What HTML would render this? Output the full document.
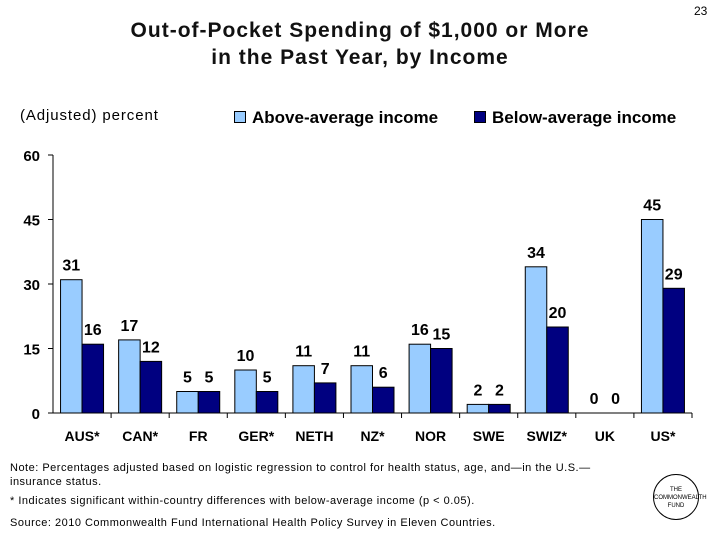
<!DOCTYPE html>
<html><head><meta charset="utf-8"><style>
body{margin:0;background:#fff;font-family:"Liberation Sans",Arial,sans-serif}
#wrap{position:relative;width:720px;height:540px;overflow:hidden}
.t{position:absolute;white-space:nowrap}
.fn{font-size:11px;letter-spacing:0.5px}
</style></head><body>
<div id="wrap">
<div class="t" style="left:60px;width:600px;top:17px;text-align:center;font-size:21px;font-weight:bold;line-height:27px;color:#111;letter-spacing:1px">Out-of-Pocket Spending of $1,000 or More<br>in the Past Year, by Income</div>
<div class="t" style="left:694px;top:4px;font-size:12px">23</div>
<div class="t" style="left:20px;top:107px;font-size:15px;letter-spacing:0.9px">(Adjusted) percent</div>
<div class="t" style="left:234px;top:108px;font-size:17px;font-weight:bold"><span style="display:inline-block;width:10px;height:10px;background:#99ccff;border:1px solid #000;margin-right:6px"></span>Above-average income</div>
<div class="t" style="left:474px;top:108px;font-size:17px;font-weight:bold"><span style="display:inline-block;width:10px;height:10px;background:#000080;border:1px solid #000;margin-right:6px"></span>Below-average income</div>
<svg id="chart" width="720" height="540" style="position:absolute;left:0;top:0"></svg>
<div class="t fn" style="left:10px;top:461px;line-height:14px">Note: Percentages adjusted based on logistic regression to control for health status, age, and—in the U.S.—<br>insurance status.</div>
<div class="t fn" style="left:10px;top:495px">* Indicates significant within-country differences with below-average income (p &lt; 0.05).</div>
<div class="t fn" style="left:10px;top:517px">Source: 2010 Commonwealth Fund International Health Policy Survey in Eleven Countries.</div>
<div style="position:absolute;left:653px;top:474px;width:46px;height:46px;border:1px solid #000;border-radius:50%;font-size:6px;text-align:center;line-height:8px;box-sizing:border-box;padding-top:11px">THE<br>COMMONWEALTH<br>FUND</div>
</div>
<script>
const categories=["AUS*","CAN*","FR","GER*","NETH","NZ*","NOR","SWE","SWIZ*","UK","US*"];
const aboveValues=[31,17,5,10,11,11,16,2,34,0,45];
const belowValues=[16,12,5,5,7,6,15,2,20,0,29];
const yTicks=[0,15,30,45,60];
const svg=document.getElementById('chart');
const NS='http://www.w3.org/2000/svg';
const x0=53,x1=692,yb=413,yt=155,yMax=60;
const gw=(x1-x0)/categories.length,bw=21.5;
const y=v=>yb-(v/yMax)*(yb-yt);
function mk(tag,attrs,txt){const e=document.createElementNS(NS,tag);for(const k in attrs)e.setAttribute(k,attrs[k]);if(txt!==undefined)e.textContent=txt;svg.appendChild(e);return e;}
let e=mk('line',{x1:x0,y1:yt,x2:x0,y2:yb,stroke:'#000'});

e=mk('line',{x1:x0,y1:yb,x2:x1,y2:yb,stroke:'#000'});

yTicks.forEach(t=>{
 let l=mk('line',{x1:x0-5,y1:y(t),x2:x0,y2:y(t),stroke:'#000'});
 
 let tx=mk('text',{x:40,y:y(t)+6,'text-anchor':'end','font-size':15,'font-weight':'bold','font-family':'Liberation Sans'},t);
 
});
categories.forEach((c,i)=>{
 const gx=x0+i*gw;
 let l=mk('line',{x1:gx+gw,y1:yb,x2:gx+gw,y2:yb+5,stroke:'#000'});
 
 const cx=gx+gw/2;
 let tx=mk('text',{x:cx,y:yb+28,'text-anchor':'middle','font-size':14,'font-weight':'bold','font-family':'Liberation Sans'},c);
 
 [[aboveValues[i],'#99ccff',cx-bw,'bar-above'],[belowValues[i],'#000080',cx,'bar-below']].forEach(([v,col,bx,nm])=>{
  if(v>0){let r=mk('rect',{x:bx,y:y(v),width:bw,height:yb-y(v),fill:col,stroke:'#000','stroke-width':1});
  }
  let lb=mk('text',{x:bx+bw/2,y:y(v)-9,'text-anchor':'middle','font-size':16,'font-weight':'bold','font-family':'Liberation Sans'},v);
  
 });
});
</script>
</body></html>
